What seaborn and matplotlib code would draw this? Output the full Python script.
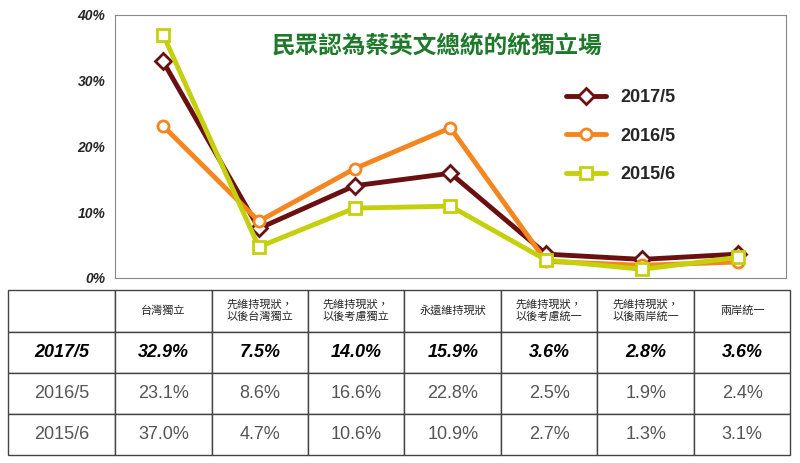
import matplotlib
matplotlib.use("Agg")
import matplotlib.pyplot as plt
import seaborn as sns
import pandas as pd

sns.set_style("white")
plt.rcParams['font.family'] = ['Noto Sans CJK TC', 'DejaVu Sans']

categories = ['台灣獨立', '先維持現狀，\n以後台灣獨立', '先維持現狀，\n以後考慮獨立', '永遠維持現狀',
              '先維持現狀，\n以後考慮統一', '先維持現狀，\n以後兩岸統一', '兩岸統一']
series = ['2017/5', '2016/5', '2015/6']
v2017 = [32.9, 7.5, 14.0, 15.9, 3.6, 2.8, 3.6]
v2016 = [23.1, 8.6, 16.6, 22.8, 2.5, 1.9, 2.4]
v2015 = [37.0, 4.7, 10.6, 10.9, 2.7, 1.3, 3.1]
colors = ['#6B1010', '#F5851F', '#C5D00C']
markers = ['D', 'o', 's']

rows = []
for name, vals in zip(series, [v2017, v2016, v2015]):
    for i, v in enumerate(vals):
        rows.append({'x': i, 'val': v, 'series': name})
df = pd.DataFrame(rows)

fig = plt.figure(figsize=(8, 4.63), dpi=100)
ax = fig.add_axes([0.144, 0.40, 0.838, 0.568])
for name, c, m in zip(series, colors, markers):
    sub = df[df['series'] == name]
    sns.lineplot(data=sub, x='x', y='val', ax=ax, color=c, lw=3.5, marker=m,
                 markersize=8, markerfacecolor='white', markeredgecolor=c,
                 markeredgewidth=2, label=name)
ax.set_xlim(-0.5, 6.5)
ax.set_ylim(0, 40)
ax.set_yticks([0, 10, 20, 30, 40])
ax.set_yticklabels([f'{t}%' for t in [0, 10, 20, 30, 40]], fontstyle='italic',
                   fontweight='bold', fontsize=10, family='Liberation Sans')
ax.set_xticks([])
ax.set_xlabel('')
ax.set_ylabel('')
for s in ax.spines.values():
    s.set_color('#888888')
ax.text(0.48, 0.88, '民眾認為蔡英文總統的統獨立場', transform=ax.transAxes, ha='center',
        va='center', fontsize=17, color='#1E7A2A', fontweight='bold')
ax.legend(loc='upper right', bbox_to_anchor=(0.86, 0.78), frameon=False,
          prop={'weight': 'bold', 'size': 13, 'family': 'Liberation Sans'},
          labelspacing=1.2, handlelength=2.2)

tab = fig.add_axes([0.01, 0.017, 0.978, 0.356])
tab.axis('off')
cell_text = [[''] + categories]
for name, vals in zip(series, [v2017, v2016, v2015]):
    cell_text.append([name] + [f'{v:.1f}%' for v in vals])
first = 107 / 782
colw = [first] + [(1 - first) / 7] * 7
t = tab.table(cellText=cell_text, colWidths=colw, bbox=[0, 0, 1, 1], cellLoc='center')
t.auto_set_font_size(False)
for (r, c), cell in t.get_celld().items():
    cell.set_edgecolor('#444444')
    cell.set_linewidth(1.0)
    txt = cell.get_text()
    if r == 0:
        txt.set_fontsize(8)
    else:
        txt.set_fontsize(13)
        txt.set_fontfamily('Liberation Sans')
        if r == 1:
            txt.set_fontweight('bold')
            txt.set_fontstyle('italic')
            txt.set_color('black')
        else:
            txt.set_color('#555555')

fig.savefig('out.png', dpi=100)
